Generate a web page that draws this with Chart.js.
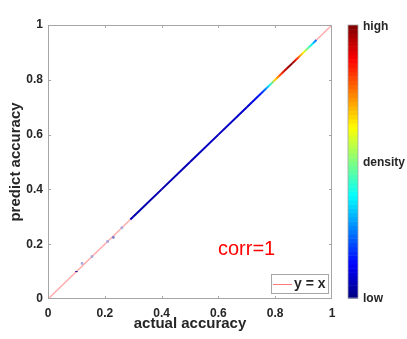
<!DOCTYPE html>
<html>
<head>
<meta charset="utf-8">
<script src="https://cdn.jsdelivr.net/npm/chart.js@4.4.1/dist/chart.umd.min.js"></script>
<style>
html, body { margin: 0; padding: 0; background: #fff; }
#wrap { position: relative; width: 407px; height: 339px; }
</style>
</head>
<body>
<div id="wrap"><canvas id="chart" width="407" height="339"></canvas></div>
<script>
// ---- data ----
const axisTicks = [0, 0.2, 0.4, 0.6, 0.8, 1];

// reference line y = x
const refActual  = [0, 1];
const refPredict = [0, 1];

// dense run of points, coloured by density (0 = low, 1 = high)
const denseActual  = [0.29, 0.30, 0.40, 0.50, 0.60, 0.70, 0.75, 0.77, 0.78, 0.80, 0.82, 0.84, 0.86, 0.875, 0.89, 0.90, 0.915, 0.93, 0.945];
const densePredict = [0.29, 0.30, 0.40, 0.50, 0.60, 0.70, 0.75, 0.77, 0.78, 0.80, 0.82, 0.84, 0.86, 0.875, 0.89, 0.90, 0.915, 0.93, 0.945];
const denseLevel   = [0.06, 0.05, 0.05, 0.06, 0.07, 0.08, 0.15, 0.28, 0.38, 0.66, 0.82, 0.95, 1.00, 0.85, 0.70, 0.62, 0.47, 0.36, 0.22];

// isolated low-density points
const sparseActual  = [0.10, 0.12, 0.155, 0.21, 0.23, 0.26];
const sparsePredict = [0.10, 0.13, 0.155, 0.21, 0.225, 0.26];
const sparseColor   = ['#0a0a8c', '#a8a8dc', '#a8a8dc', '#a8a8dc', '#8080c8', '#a8a8dc'];
const sparseStyle   = ['line', 'rect', 'rect', 'rect', 'rect', 'rect'];

const FONT = "'Liberation Sans', Arial, Helvetica, sans-serif";
const TXT = '#262626';
const AXC = '#a6a6a6';
const REF_COLOR = 'rgba(255,50,50,0.4)';

function jet(t) {
  const c = v => Math.round(255 * Math.max(0, Math.min(1, v)));
  return `rgb(${c(1.5 - Math.abs(4*t - 3))},${c(1.5 - Math.abs(4*t - 2))},${c(1.5 - Math.abs(4*t - 1))})`;
}

const pts = (xs, ys) => xs.map((x, i) => ({ x, y: ys[i] }));

// box, inside ticks, annotation, legend, colorbar
const decor = {
  id: 'decor',
  afterDraw(chart) {
    const { ctx, chartArea: a, scales: { x, y } } = chart;
    ctx.save();
    ctx.strokeStyle = AXC;
    ctx.lineWidth = 1;
    ctx.strokeRect(a.left + 0.5, a.top + 0.5, a.right - a.left - 1, a.bottom - a.top - 1);
    ctx.beginPath();
    axisTicks.slice(1, -1).forEach(v => {
      const px = Math.round(x.getPixelForValue(v)) + 0.5;
      const py = Math.round(y.getPixelForValue(v)) + 0.5;
      ctx.moveTo(px, a.bottom); ctx.lineTo(px, a.bottom - 3);
      ctx.moveTo(px, a.top); ctx.lineTo(px, a.top + 3);
      ctx.moveTo(a.left, py); ctx.lineTo(a.left + 3, py);
      ctx.moveTo(a.right, py); ctx.lineTo(a.right - 3, py);
    });
    ctx.stroke();

    // corr text
    ctx.fillStyle = '#ff0000';
    ctx.font = '20px ' + FONT;
    ctx.textAlign = 'left';
    ctx.textBaseline = 'alphabetic';
    ctx.fillText('corr=1', 218, 255);

    // legend
    ctx.fillStyle = '#fff';
    ctx.fillRect(271, 274, 58, 20);
    ctx.strokeStyle = AXC;
    ctx.strokeRect(271.5, 274.5, 57, 19);
    ctx.strokeStyle = '#ff7a7a';
    ctx.beginPath(); ctx.moveTo(273, 284.5); ctx.lineTo(292, 284.5); ctx.stroke();
    ctx.fillStyle = TXT;
    ctx.font = 'bold 14px ' + FONT;
    ctx.textBaseline = 'middle';
    ctx.fillText('y = x', 294, 284);

    // colorbar
    const cbL = 348, cbR = 358, cbT = 25, cbB = 298, n = 64;
    const h = (cbB - cbT) / n;
    for (let i = 0; i < n; i++) {
      ctx.fillStyle = jet((i + 0.5) / n);
      ctx.fillRect(cbL, cbB - (i + 1) * h, cbR - cbL, h + 0.5);
    }
    ctx.strokeStyle = AXC;
    ctx.lineWidth = 0.8;
    ctx.strokeRect(cbL, cbT, cbR - cbL, cbB - cbT);
    ctx.fillStyle = TXT;
    ctx.font = 'bold 12px ' + FONT;
    ctx.fillText('high', 363, 27);
    ctx.fillText('density', 363, 163);
    ctx.fillText('low', 363, 299);
    ctx.restore();
  }
};

const tickFont = { family: FONT, size: 12, weight: 'bold' };
const titleFont = { family: FONT, size: 15, weight: 'bold' };

new Chart(document.getElementById('chart'), {
  type: 'scatter',
  data: {
    datasets: [
      {
        label: 'y = x',
        data: pts(refActual, refPredict),
        showLine: true,
        borderColor: REF_COLOR,
        borderWidth: 1.5,
        pointRadius: 0,
        order: 3
      },
      {
        label: 'density',
        data: pts(denseActual, densePredict),
        showLine: true,
        borderWidth: 2,
        pointRadius: 0,
        order: 2,
        segment: {
          borderColor: c => {
            const g = c.chart.ctx.createLinearGradient(c.p0.x, c.p0.y, c.p1.x, c.p1.y);
            g.addColorStop(0, jet(denseLevel[c.p0DataIndex]));
            g.addColorStop(1, jet(denseLevel[c.p1DataIndex]));
            return g;
          }
        }
      },
      {
        label: 'sparse',
        data: pts(sparseActual, sparsePredict),
        pointStyle: sparseStyle,
        pointRadius: 1.2,
        backgroundColor: sparseColor,
        borderColor: sparseColor,
        borderWidth: 1,
        order: 1
      }
    ]
  },
  options: {
    responsive: false,
    animation: false,
    layout: { padding: { top: 25, right: 75, left: 0, bottom: 0 } },
    plugins: { legend: { display: false }, tooltip: { enabled: false } },
    scales: {
      x: {
        type: 'linear', min: 0, max: 1,
        afterBuildTicks: s => { s.ticks = axisTicks.map(v => ({ value: v })); },
        ticks: { color: TXT, font: tickFont, padding: 7, maxRotation: 0,
                 callback: v => String(+v.toFixed(1)) },
        grid: { display: false, drawTicks: false },
        border: { display: false },
        title: { display: true, text: 'actual accuracy', color: TXT, font: titleFont,
                 padding: { top: 0, bottom: 6 } },
        afterFit: s => { s.height = 40; }
      },
      y: {
        type: 'linear', min: 0, max: 1,
        afterBuildTicks: s => { s.ticks = axisTicks.map(v => ({ value: v })); },
        ticks: { color: TXT, font: tickFont, padding: 5,
                 callback: v => String(+v.toFixed(1)) },
        grid: { display: false, drawTicks: false },
        border: { display: false },
        title: { display: true, text: 'predict accuracy', color: TXT, font: titleFont,
                 padding: { top: 7, bottom: 0 } },
        afterFit: s => { s.width = 48; }
      }
    }
  },
  plugins: [decor]
});
</script>
</body>
</html>
